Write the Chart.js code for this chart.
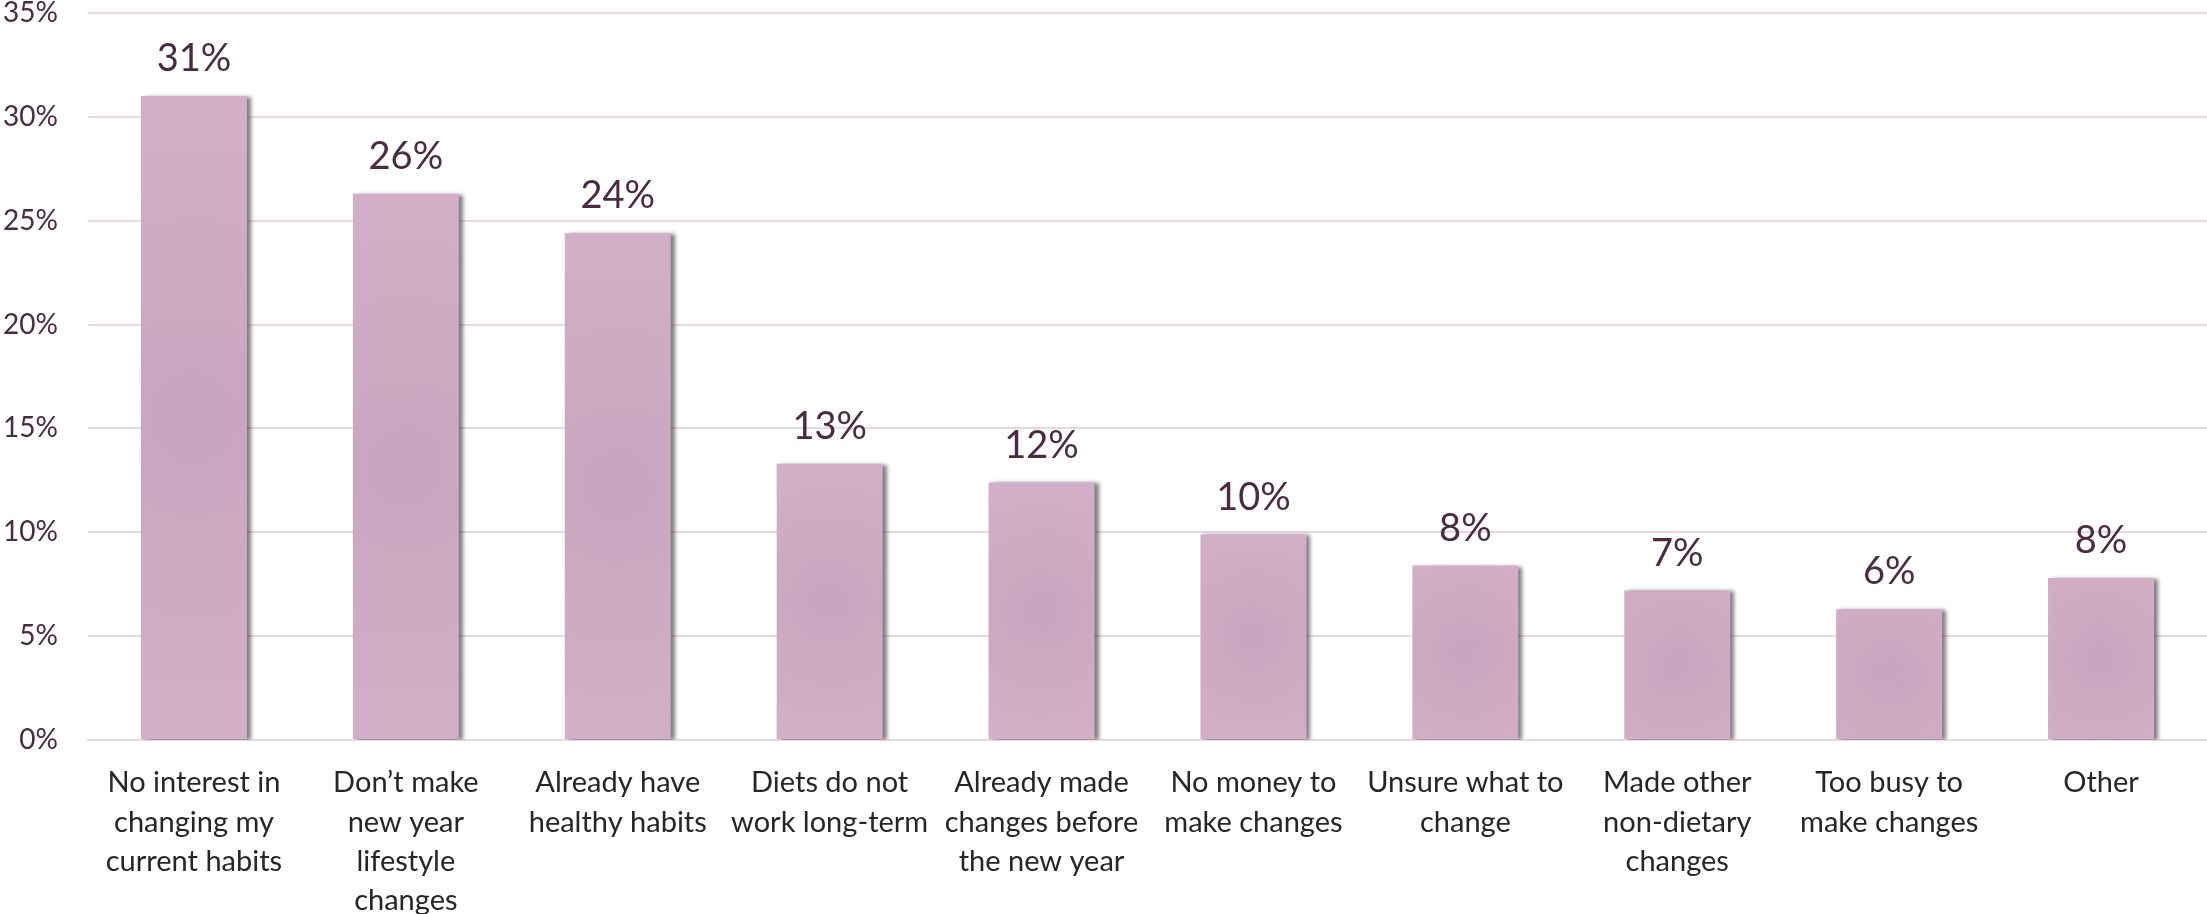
<!DOCTYPE html>
<html>
<head>
<meta charset="utf-8">
<script src="https://cdn.jsdelivr.net/npm/chart.js@4.4.1/dist/chart.umd.min.js"></script>
<style>
  html, body { margin: 0; padding: 0; background: #ffffff; }
  #wrap { width: 2207px; height: 914px; position: relative; }
</style>
</head>
<body>
<div id="wrap"><canvas id="reasonsChart"></canvas></div>
<script>
// categories (wrapped the same way as the original axis labels)
const categories = [
    ['No interest in', 'changing my', 'current habits'],
    ['Don\u2019t make', 'new year', 'lifestyle', 'changes'],
    ['Already have', 'healthy habits'],
    ['Diets do not', 'work long-term'],
    ['Already made', 'changes before', 'the new year'],
    ['No money to', 'make changes'],
    ['Unsure what to', 'change'],
    ['Made other', 'non-dietary', 'changes'],
    ['Too busy to', 'make changes'],
    ['Other']
];

// bar heights (%)
const shares = [31.0, 26.3, 24.4, 13.3, 12.4, 9.9, 8.4, 7.2, 6.3, 7.8];

// labels printed above the bars
const shareLabels = ['31%', '26%', '24%', '13%', '12%', '10%', '8%', '7%', '6%', '8%'];

// y axis ticks
const yTicks = [0, 5, 10, 15, 20, 25, 30, 35];

const FONT = 'Lato, "Open Sans", sans-serif';
const PURPLE = '#4b2a44';

// soft shading + shadow behind the bars, value labels on top
const barDecor = {
    id: 'barDecor',
    beforeDatasetsDraw(chart) {
        const ctx = chart.ctx;
        chart.getDatasetMeta(0).data.forEach(bar => {
            const top = Math.min(bar.y, bar.base);
            const h = Math.abs(bar.base - bar.y);
            const cy = top + h / 2;
            const g = ctx.createRadialGradient(bar.x, cy, 0, bar.x, cy, Math.max(h / 2, bar.width));
            g.addColorStop(0, '#c9a4be');
            g.addColorStop(1, '#d2afc7');
            bar.options.backgroundColor = g;
        });
        ctx.save();
        ctx.shadowColor = 'rgba(40,40,40,0.6)';
        ctx.shadowOffsetX = 4;
        ctx.shadowOffsetY = 1;
        ctx.shadowBlur = 4;
    },
    afterDatasetsDraw(chart) {
        const ctx = chart.ctx;
        ctx.restore();
        const meta = chart.getDatasetMeta(0);
        ctx.save();
        ctx.font = '38px ' + FONT;
        ctx.fillStyle = PURPLE;
        ctx.textAlign = 'center';
        ctx.textBaseline = 'middle';
        meta.data.forEach((bar, i) => {
            ctx.fillText(shareLabels[i], bar.x, bar.y - 37);
        });
        ctx.restore();
    }
};

new Chart(document.getElementById('reasonsChart').getContext('2d'), {
    type: 'bar',
    data: {
        labels: categories,
        datasets: [{
            data: shares,
            // scriptable so every bar gets its own options object
            backgroundColor: () => '#cca7c1',
            borderWidth: 0,
            barPercentage: 0.5,
            categoryPercentage: 1.0
        }]
    },
    options: {
        responsive: true,
        maintainAspectRatio: false,
        animation: false,
        layout: { padding: 0 },
        plugins: {
            legend: { display: false },
            tooltip: { enabled: false }
        },
        scales: {
            x: {
                grid: { display: false },
                border: { display: true, color: '#e9d8e4', width: 2 },
                ticks: {
                    color: '#262626',
                    font: { family: FONT, size: 29, lineHeight: 1.36 },
                    padding: 15,
                    maxRotation: 0,
                    autoSkip: false
                },
                afterFit(scale) { scale.height = 174; }
            },
            y: {
                min: 0,
                max: 35,
                afterBuildTicks(scale) {
                    scale.ticks = yTicks.map(v => ({ value: v }));
                },
                grid: { color: '#e9d8e4', lineWidth: 2, drawTicks: false },
                border: { display: false },
                ticks: {
                    color: PURPLE,
                    font: { family: FONT, size: 28 },
                    padding: 30,
                    callback: v => v + '%'
                },
                afterFit(scale) {
                    scale.width = 88;
                    scale.paddingTop = 13;
                    scale.paddingBottom = 0;
                }
            }
        }
    },
    plugins: [barDecor]
});
</script>
</body>
</html>
